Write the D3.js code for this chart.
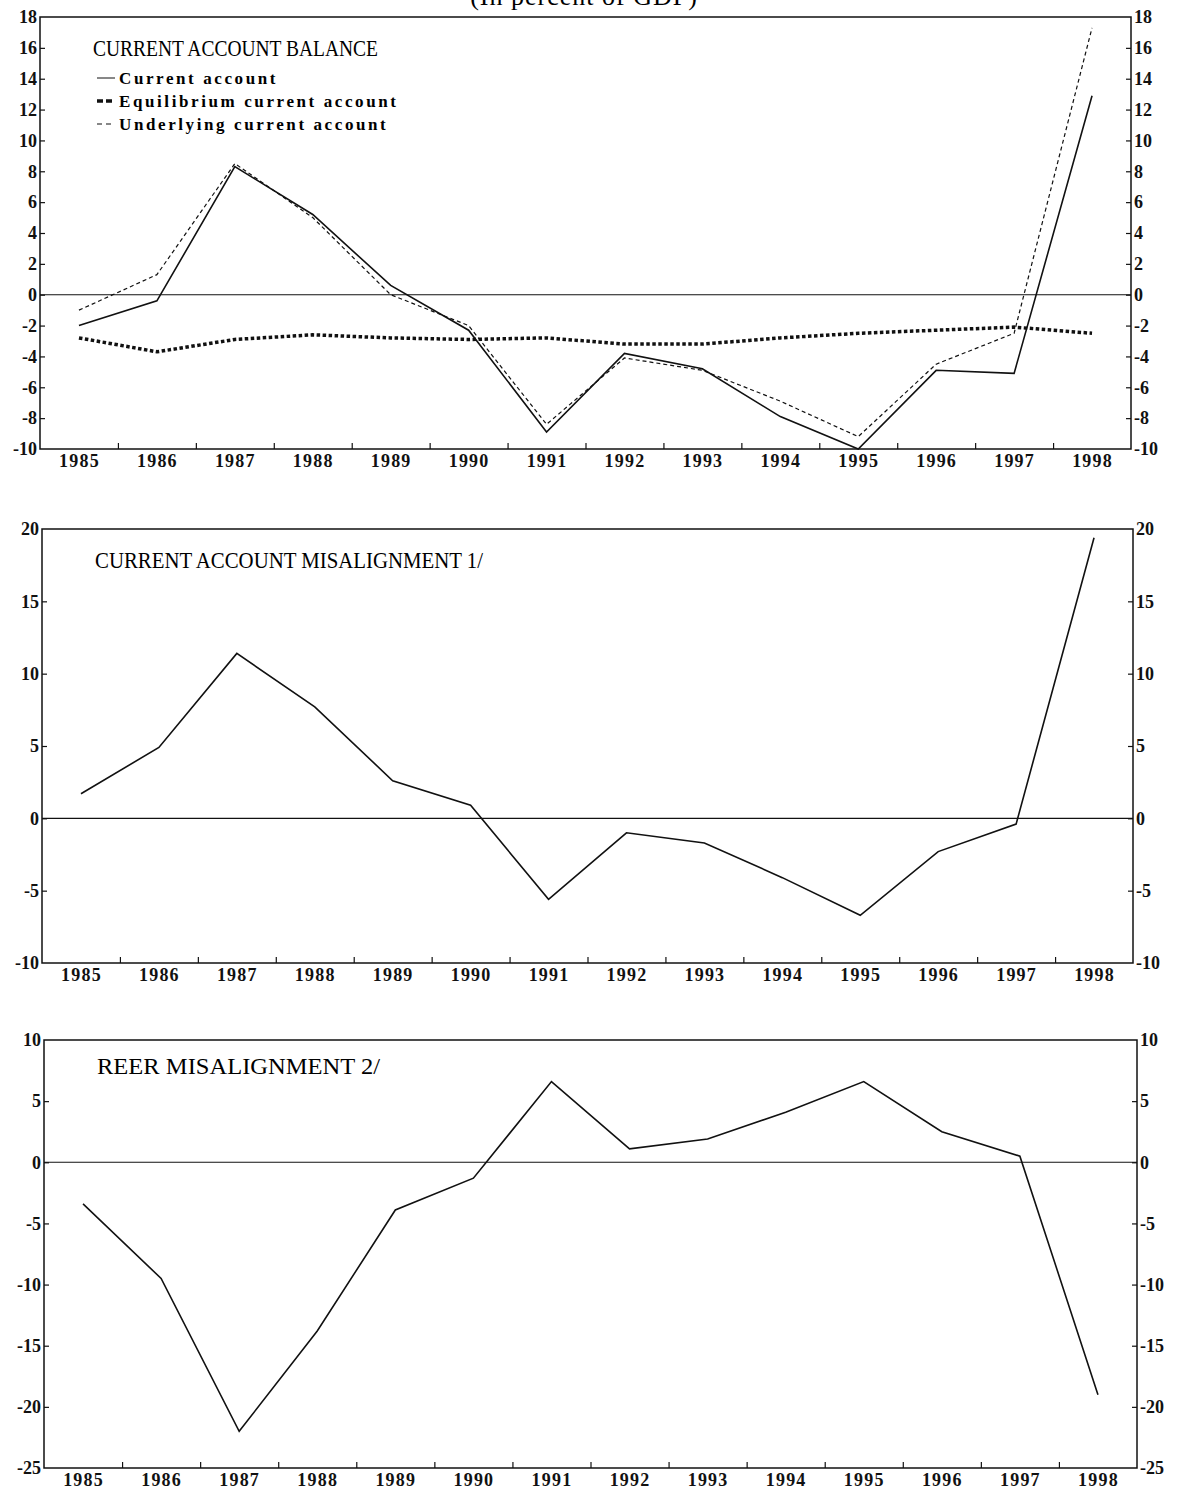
<!DOCTYPE html>
<html>
<head>
<meta charset="utf-8">
<script src="https://cdn.jsdelivr.net/npm/d3@7"></script>
<style>
  body { margin: 0; background: #fff; }
  svg { display: block; }
  .tick text { font-family: "Liberation Serif", "DejaVu Serif", serif; font-weight: bold; font-size: 18px; fill: #111; }
  .xlab .tick text { letter-spacing: 1.2px; }
  .domain { display: none; }
  .tick line { stroke: #111; stroke-width: 1.2; }
</style>
</head>
<body>
<script>
// years on the x axis
var years = [1985, 1986, 1987, 1988, 1989, 1990, 1991, 1992, 1993, 1994, 1995, 1996, 1997, 1998];

// panel 1: current account balance, percent of GDP
var currentAccount = [-2.0, -0.4, 8.3, 5.2, 0.6, -2.3, -8.9, -3.8, -4.8, -7.9, -10.0, -4.9, -5.1, 12.9];
var equilibriumCA  = [-2.8, -3.7, -2.9, -2.6, -2.8, -2.9, -2.8, -3.2, -3.2, -2.8, -2.5, -2.3, -2.1, -2.5];
var underlyingCA   = [-1.0, 1.3, 8.5, 5.0, 0.0, -2.0, -8.4, -4.1, -4.9, -6.9, -9.2, -4.5, -2.5, 17.3];

// panel 2 and 3
var caMisalignment   = [1.7, 4.9, 11.4, 7.7, 2.6, 0.9, -5.6, -1.0, -1.7, -4.1, -6.7, -2.3, -0.4, 19.4];
var reerMisalignment = [-3.4, -9.5, -22.0, -13.8, -3.9, -1.3, 6.6, 1.1, 1.9, 4.1, 6.6, 2.5, 0.5, -19.0];

// tick labels
var ticks1 = [-10, -8, -6, -4, -2, 0, 2, 4, 6, 8, 10, 12, 14, 16, 18];
var ticks2 = [-10, -5, 0, 5, 10, 15, 20];
var ticks3 = [-25, -20, -15, -10, -5, 0, 5, 10];

var svg = d3.select("body").append("svg")
    .attr("width", 1177)
    .attr("height", 1495);

var serif = '"Liberation Serif", "DejaVu Serif", serif';

// main heading, cut by the top edge in the scan
svg.append("text")
    .attr("x", 584).attr("y", 5)
    .attr("text-anchor", "middle")
    .style("font-family", serif)
    .style("font-size", "26px")
    .style("letter-spacing", "1px")
    .text("(In percent of GDP)");

function drawPanel(cfg) {
  var x = d3.scaleLinear().domain([1984.5, 1998.5]).range([cfg.left, cfg.right]);
  var y = d3.scaleLinear().domain(cfg.domain).range([cfg.bottom, cfg.top]);
  var g = svg.append("g");

  g.append("rect")
      .attr("x", cfg.left).attr("y", cfg.top)
      .attr("width", cfg.right - cfg.left).attr("height", cfg.bottom - cfg.top)
      .attr("fill", "none").attr("stroke", "#111").attr("stroke-width", 1.5);

  // zero line
  g.append("line")
      .attr("x1", cfg.left).attr("x2", cfg.right)
      .attr("y1", y(0)).attr("y2", y(0))
      .attr("stroke", "#111").attr("stroke-width", 1.1);

  g.append("g")
      .attr("transform", "translate(" + cfg.left + ",0)")
      .call(d3.axisLeft(y).tickValues(cfg.ticks).tickSize(-5).tickPadding(3)
        .tickFormat(function(d) { return String(d); }))
      .selectAll(".tick line").filter(function(d) { return d === cfg.domain[0] || d === cfg.domain[1]; }).remove();

  g.append("g")
      .attr("transform", "translate(" + cfg.right + ",0)")
      .call(d3.axisRight(y).tickValues(cfg.ticks).tickSize(-5).tickPadding(3)
        .tickFormat(function(d) { return String(d); }))
      .selectAll(".tick line").filter(function(d) { return d === cfg.domain[0] || d === cfg.domain[1]; }).remove();

  // ticks between years
  g.append("g")
      .attr("transform", "translate(0," + cfg.bottom + ")")
      .call(d3.axisBottom(x).tickValues(years.slice(1).map(function(d) { return d - 0.5; }))
        .tickSize(-6).tickFormat(""));

  g.append("g")
      .attr("class", "xlab")
      .attr("transform", "translate(0," + cfg.bottom + ")")
      .call(d3.axisBottom(x).tickValues(years).tickSize(0).tickPadding(5)
        .tickFormat(d3.format("d")));

  cfg.series.forEach(function(s) {
    var line = d3.line()
        .x(function(d, i) { return x(years[i]); })
        .y(function(d) { return y(d); });
    g.append("path")
        .datum(s.values)
        .attr("d", line)
        .attr("fill", "none")
        .attr("stroke", "#111")
        .attr("stroke-width", s.width)
        .attr("stroke-dasharray", s.dash || null);
  });

  g.append("text")
      .attr("x", cfg.left + 53).attr("y", cfg.top + cfg.titleDy)
      .attr("textLength", cfg.titleWidth)
      .attr("lengthAdjust", "spacingAndGlyphs")
      .style("font-family", serif)
      .style("font-size", "23px")
      .text(cfg.title);

  return g;
}

var styleCA = { width: 1.6, dash: null };
var styleEq = { width: 3.5, dash: "3.5,2.5" };
var styleUn = { width: 1.2, dash: "4,3" };

var p1 = drawPanel({
  left: 40, right: 1131, top: 17, bottom: 449,
  domain: [-10, 18], ticks: ticks1, titleDy: 39, titleWidth: 285,
  title: "CURRENT ACCOUNT BALANCE",
  series: [
    { values: equilibriumCA, width: styleEq.width, dash: styleEq.dash },
    { values: underlyingCA, width: styleUn.width, dash: styleUn.dash },
    { values: currentAccount, width: styleCA.width, dash: styleCA.dash }
  ]
});

// legend for panel 1
var legendItems = [
  { label: "Current account", w: 1, dash: null },
  { label: "Equilibrium current account", w: 3.5, dash: "6,3" },
  { label: "Underlying current account", w: 1.2, dash: "5,4" }
];
var lg = p1.append("g").attr("transform", "translate(97,84)");
legendItems.forEach(function(d, i) {
  lg.append("line")
      .attr("x1", 0).attr("x2", 18)
      .attr("y1", i * 23 - 6).attr("y2", i * 23 - 6)
      .attr("stroke", "#111")
      .attr("stroke-width", d.w)
      .attr("stroke-dasharray", d.dash);
  lg.append("text")
      .attr("x", 22).attr("y", i * 23)
      .style("font-family", serif)
      .style("font-weight", "bold")
      .style("font-size", "17px")
      .style("letter-spacing", "2.6px")
      .text(d.label);
});

drawPanel({
  left: 42, right: 1133, top: 529, bottom: 963,
  domain: [-10, 20], ticks: ticks2, titleDy: 39, titleWidth: 388,
  title: "CURRENT ACCOUNT MISALIGNMENT 1/",
  series: [{ values: caMisalignment, width: styleCA.width }]
});

drawPanel({
  left: 44, right: 1137, top: 1040, bottom: 1468,
  domain: [-25, 10], ticks: ticks3, titleDy: 34, titleWidth: 283,
  title: "REER MISALIGNMENT 2/",
  series: [{ values: reerMisalignment, width: styleCA.width }]
});
</script>
</body>
</html>
